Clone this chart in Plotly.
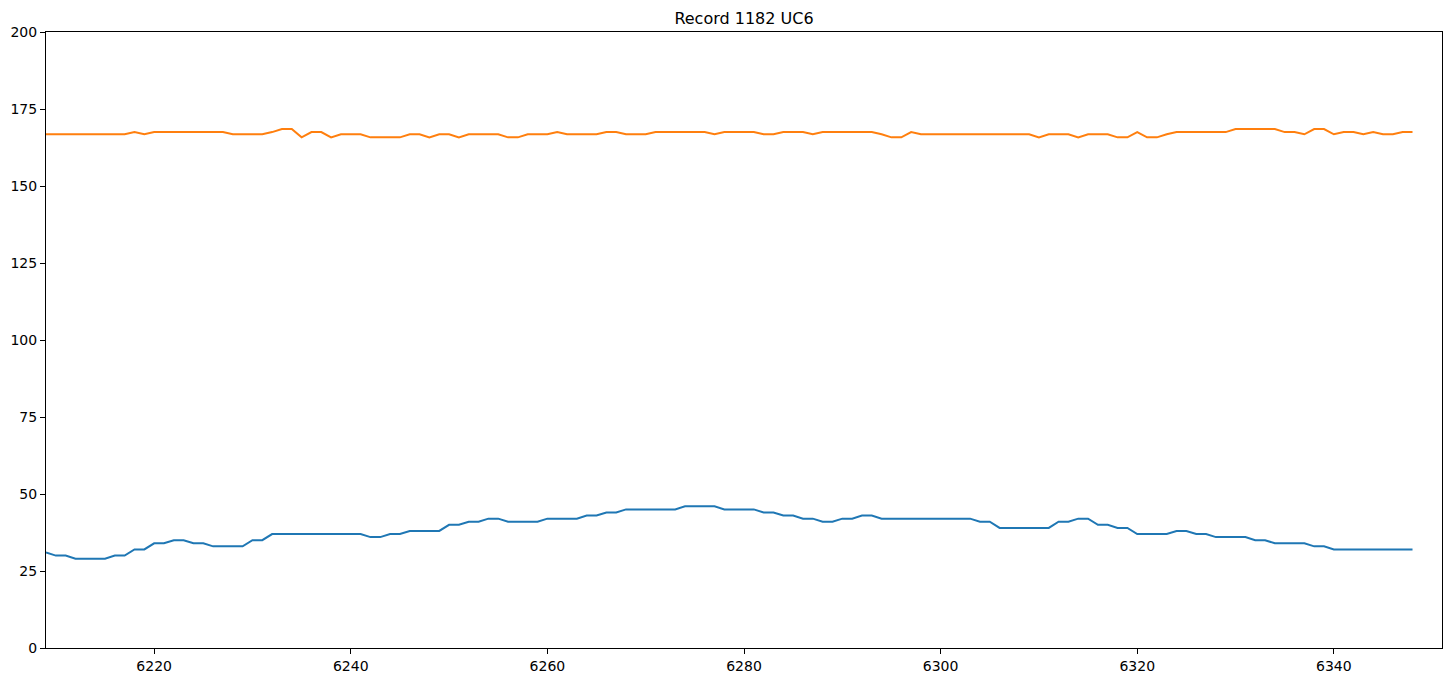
import plotly.graph_objs as go

# sample index on the x axis
samples = list(range(6209, 6349))

# blue trace
uc_low = [31, 30, 30, 29, 29, 29, 29, 30, 30, 32,
          32, 34, 34, 35, 35, 34, 34, 33, 33, 33,
          33, 35, 35, 37, 37, 37, 37, 37, 37, 37,
          37, 37, 37, 36, 36, 37, 37, 38, 38, 38,
          38, 40, 40, 41, 41, 42, 42, 41, 41, 41,
          41, 42, 42, 42, 42, 43, 43, 44, 44, 45,
          45, 45, 45, 45, 45, 46, 46, 46, 46, 45,
          45, 45, 45, 44, 44, 43, 43, 42, 42, 41,
          41, 42, 42, 43, 43, 42, 42, 42, 42, 42,
          42, 42, 42, 42, 42, 41, 41, 39, 39, 39,
          39, 39, 39, 41, 41, 42, 42, 40, 40, 39,
          39, 37, 37, 37, 37, 38, 38, 37, 37, 36,
          36, 36, 36, 35, 35, 34, 34, 34, 34, 33,
          33, 32, 32, 32, 32, 32, 32, 32, 32, 32]

# orange trace
uc_high = [166.8, 166.8, 166.8, 166.8, 166.8, 166.8, 166.8, 166.8, 166.8, 167.5,
           166.8, 167.5, 167.5, 167.5, 167.5, 167.5, 167.5, 167.5, 167.5, 166.8,
           166.8, 166.8, 166.8, 167.5, 168.5, 168.5, 165.8, 167.5, 167.5, 165.8,
           166.8, 166.8, 166.8, 165.8, 165.8, 165.8, 165.8, 166.8, 166.8, 165.8,
           166.8, 166.8, 165.8, 166.8, 166.8, 166.8, 166.8, 165.8, 165.8, 166.8,
           166.8, 166.8, 167.5, 166.8, 166.8, 166.8, 166.8, 167.5, 167.5, 166.8,
           166.8, 166.8, 167.5, 167.5, 167.5, 167.5, 167.5, 167.5, 166.8, 167.5,
           167.5, 167.5, 167.5, 166.8, 166.8, 167.5, 167.5, 167.5, 166.8, 167.5,
           167.5, 167.5, 167.5, 167.5, 167.5, 166.8, 165.8, 165.8, 167.5, 166.8,
           166.8, 166.8, 166.8, 166.8, 166.8, 166.8, 166.8, 166.8, 166.8, 166.8,
           166.8, 165.8, 166.8, 166.8, 166.8, 165.8, 166.8, 166.8, 166.8, 165.8,
           165.8, 167.5, 165.8, 165.8, 166.8, 167.5, 167.5, 167.5, 167.5, 167.5,
           167.5, 168.5, 168.5, 168.5, 168.5, 168.5, 167.5, 167.5, 166.8, 168.5,
           168.5, 166.8, 167.5, 167.5, 166.8, 167.5, 166.8, 166.8, 167.5, 167.5]

x_ticks = [6220, 6240, 6260, 6280, 6300, 6320, 6340]
y_ticks = [0, 25, 50, 75, 100, 125, 150, 175, 200]

trace1 = go.Scatter(
    x=samples,
    y=uc_low,
    mode="lines",
    line=dict(color="#1f77b4", width=2),
    showlegend=False,
)
trace2 = go.Scatter(
    x=samples,
    y=uc_high,
    mode="lines",
    line=dict(color="#ff7f0e", width=2),
    showlegend=False,
)

axis_style = dict(
    showline=True,
    linecolor="black",
    linewidth=1,
    mirror=True,
    ticks="outside",
    ticklen=5,
    tickwidth=1,
    tickcolor="black",
    showgrid=False,
    zeroline=False,
    tickfont=dict(family="DejaVu Sans", size=14, color="black"),
)

# page body has an 8px margin, so the figure is 16px smaller than the window
layout = go.Layout(
    width=1435,
    height=666,
    margin=dict(l=38, r=1, t=24, b=26),
    paper_bgcolor="white",
    plot_bgcolor="white",
    title=dict(
        text="Record 1182 UC6",
        x=0.5,
        xref="paper",
        y=1 - 10 / 666,
        yref="container",
        yanchor="middle",
        font=dict(family="DejaVu Sans", size=16, color="black"),
    ),
    xaxis=dict(range=[6209, 6351], tickvals=x_ticks, **axis_style),
    yaxis=dict(range=[0, 200], tickvals=y_ticks, **axis_style),
)

fig = go.Figure(data=[trace1, trace2], layout=layout)
fig.write_html("out.html")
